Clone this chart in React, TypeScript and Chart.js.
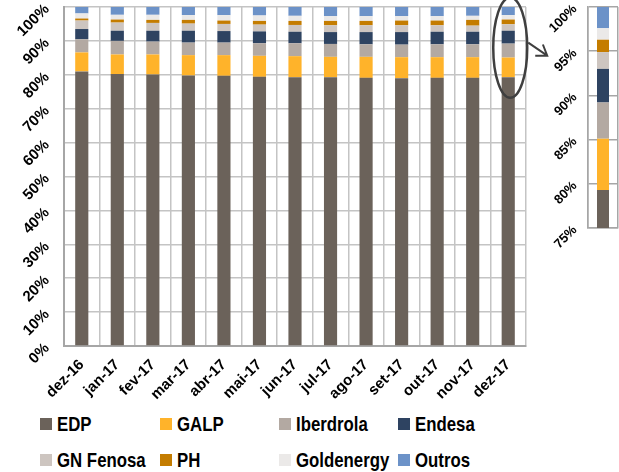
import React, { useEffect, useRef } from 'react';
import { Chart, registerables } from 'chart.js';

Chart.register(...registerables);

const categories = ['dez-16', 'jan-17', 'fev-17', 'mar-17', 'abr-17', 'mai-17', 'jun-17', 'jul-17', 'ago-17', 'set-17', 'out-17', 'nov-17', 'dez-17'];

const edp = [81.0, 80.2, 80.1, 79.8, 79.7, 79.4, 79.3, 79.3, 79.1, 79.0, 79.1, 79.1, 79.3];
const galp = [5.6, 5.8, 5.9, 6.0, 6.1, 6.2, 6.2, 6.0, 6.2, 6.2, 6.1, 6.1, 5.8];
const iberdrola = [3.9, 4.0, 3.8, 3.7, 3.7, 3.7, 3.8, 3.8, 3.7, 3.7, 3.8, 3.8, 4.1];
const endesa = [3.0, 3.0, 3.2, 3.5, 3.4, 3.5, 3.4, 3.5, 3.6, 3.7, 3.7, 3.7, 3.8];
const gnFenosa = [2.5, 2.4, 2.3, 2.1, 2.1, 2.0, 2.0, 2.0, 2.0, 2.0, 1.9, 1.8, 1.9];
const ph = [0.6, 0.9, 0.9, 1.1, 1.0, 1.1, 1.2, 1.3, 1.3, 1.4, 1.4, 1.7, 1.4];
const goldenergy = [1.5, 1.4, 1.5, 1.4, 1.6, 1.6, 1.5, 1.4, 1.4, 1.3, 1.3, 1.2, 1.3];
const outros = [1.9, 2.3, 2.3, 2.4, 2.4, 2.5, 2.6, 2.7, 2.7, 2.7, 2.7, 2.6, 2.4];

const seriesNames = ['EDP', 'GALP', 'Iberdrola', 'Endesa', 'GN Fenosa', 'PH', 'Goldenergy', 'Outros'];
const seriesValues = [edp, galp, iberdrola, endesa, gnFenosa, ph, goldenergy, outros];
const seriesColors = ['#6b625a', '#ffb32a', '#b3a9a2', '#2e4361', '#cdc5c0', '#c47c00', '#ebe9e8', '#6c92c8'];

const mainMin = 0;
const mainMax = 100;
const mainStep = 10;
const insetMin = 75;
const insetMax = 100;
const insetStep = 5;

const FONT = '"Liberation Sans", Arial, sans-serif';
const GRID = '#c4c4c4';
const AXIS = '#a6a6a6';

const ellipseArrowPlugin = {
  id: 'ellipseArrow',
  afterDraw(chart: any) {
    const { ctx, scales } = chart;
    const x = scales.x;
    const y = scales.y;
    const i = categories.length - 1;
    const cx = x.getPixelForValue(i) + 2;
    const cy = y.getPixelForValue(88);
    const ry = y.getPixelForValue(73.2) - cy;
    const rx = 17;
    ctx.save();
    ctx.strokeStyle = '#3f3f3f';
    ctx.lineWidth = 2.5;
    ctx.beginPath();
    ctx.ellipse(cx, cy, rx, ry, 0, 0, Math.PI * 2);
    ctx.stroke();
    const sx = cx + rx + 1;
    const sy = cy - 5;
    const ex = sx + 19;
    const ey = sy + 13;
    ctx.lineWidth = 2;
    ctx.beginPath();
    ctx.moveTo(sx, sy);
    ctx.lineTo(ex, ey);
    const ang = Math.atan2(ey - sy, ex - sx) + Math.PI;
    const len = 12;
    const spread = 0.6;
    ctx.moveTo(ex + len * Math.cos(ang - spread), ey + len * Math.sin(ang - spread));
    ctx.lineTo(ex, ey);
    ctx.lineTo(ex + len * Math.cos(ang + spread), ey + len * Math.sin(ang + spread));
    ctx.stroke();
    ctx.restore();
  },
};

export default function App() {
  const mainRef = useRef<HTMLCanvasElement | null>(null);
  const insetRef = useRef<HTMLCanvasElement | null>(null);

  useEffect(() => {
    const datasets = seriesNames.map((name, k) => ({
      label: name,
      data: seriesValues[k],
      backgroundColor: seriesColors[k],
      borderWidth: 0,
    }));
    const main = new Chart(mainRef.current as HTMLCanvasElement, {
      type: 'bar',
      data: { labels: categories, datasets },
      options: {
        responsive: false,
        animation: false,
        layout: { padding: { left: 0, right: 93, top: 7, bottom: 0 } },
        plugins: { legend: { display: false }, tooltip: { enabled: false } },
        datasets: { bar: { barPercentage: 0.37, categoryPercentage: 1 } },
        scales: {
          x: {
            stacked: true,
            grid: { color: GRID, lineWidth: 1.5, drawTicks: false, offset: true },
            border: { color: AXIS, width: 2 },
            ticks: {
              color: '#000',
              font: { family: FONT, size: 15, weight: 'bold' },
              minRotation: 45,
              maxRotation: 45,
              autoSkip: false,
              padding: 10,
            },
            afterFit: (s: any) => {
              s.height = 64;
              s.paddingLeft = 0;
              s.paddingRight = 0;
            },
          },
          y: {
            stacked: true,
            min: mainMin,
            max: mainMax,
            grid: { color: GRID, lineWidth: 1.5, drawTicks: false },
            border: { color: AXIS, width: 2 },
            ticks: {
              stepSize: mainStep,
              color: '#000',
              font: { family: FONT, size: 15, weight: 'bold' },
              minRotation: 45,
              maxRotation: 45,
              padding: 17,
              callback: (v: any) => v + '%',
            },
            afterFit: (s: any) => {
              s.width = 64;
              s.paddingTop = 0;
              s.paddingBottom = 0;
            },
          },
        },
      } as any,
      plugins: [ellipseArrowPlugin],
    });

    const last = categories.length - 1;
    const insetDatasets = seriesNames.map((name, k) => ({
      label: name,
      data: [seriesValues[k][last]],
      backgroundColor: seriesColors[k],
      borderWidth: 0,
    }));
    const inset = new Chart(insetRef.current as HTMLCanvasElement, {
      type: 'bar',
      data: { labels: [categories[last]], datasets: insetDatasets },
      options: {
        responsive: false,
        animation: false,
        layout: { padding: { left: 0, right: 1, top: 7, bottom: 32 } },
        plugins: { legend: { display: false }, tooltip: { enabled: false } },
        datasets: { bar: { barPercentage: 0.4, categoryPercentage: 1 } },
        scales: {
          x: {
            stacked: true,
            grid: { color: AXIS, lineWidth: 1.5, drawTicks: false, offset: true },
            border: { color: AXIS, width: 1.5 },
            ticks: { display: false },
            afterFit: (s: any) => {
              s.height = 0;
              s.paddingLeft = 0;
              s.paddingRight = 0;
            },
          },
          y: {
            stacked: true,
            min: insetMin,
            max: insetMax,
            grid: { color: AXIS, lineWidth: 1.5, drawTicks: false },
            border: { color: AXIS, width: 1.5 },
            ticks: {
              stepSize: insetStep,
              color: '#000',
              font: { family: FONT, size: 13, weight: 'bold' },
              minRotation: 45,
              maxRotation: 45,
              padding: 13,
              callback: (v: any) => v + '%',
            },
            afterFit: (s: any) => {
              s.width = 58;
              s.paddingTop = 0;
              s.paddingBottom = 0;
            },
          },
        },
      } as any,
    });

    return () => {
      main.destroy();
      inset.destroy();
    };
  }, []);

  const colLeft = [40, 160, 279, 398];
  const rowCenter = [424, 460];

  return (
    <div style={{ position: 'absolute', left: 0, top: 0, width: 619, height: 472, background: '#fff', overflow: 'hidden' }}>
      <canvas ref={mainRef} width={619} height={410} style={{ position: 'absolute', left: 0, top: 0, width: 619, height: 410 }} />
      <canvas ref={insetRef} width={89} height={260} style={{ position: 'absolute', left: 530, top: 0, width: 89, height: 260 }} />
      {seriesNames.map((name, k) => (
        <div
          key={name}
          style={{
            position: 'absolute',
            left: colLeft[k % 4],
            top: rowCenter[Math.floor(k / 4)] - 12,
            height: 24,
            display: 'flex',
            alignItems: 'center',
            whiteSpace: 'nowrap',
          }}
        >
          <div style={{ width: 12, height: 12, background: seriesColors[k], marginRight: 5 }} />
          <span
            style={{
              fontFamily: FONT,
              fontWeight: 'bold',
              fontSize: 21,
              color: '#000',
              display: 'inline-block',
              transform: 'scaleX(0.8)',
              transformOrigin: 'left center',
            }}
          >
            {name}
          </span>
        </div>
      ))}
    </div>
  );
}
